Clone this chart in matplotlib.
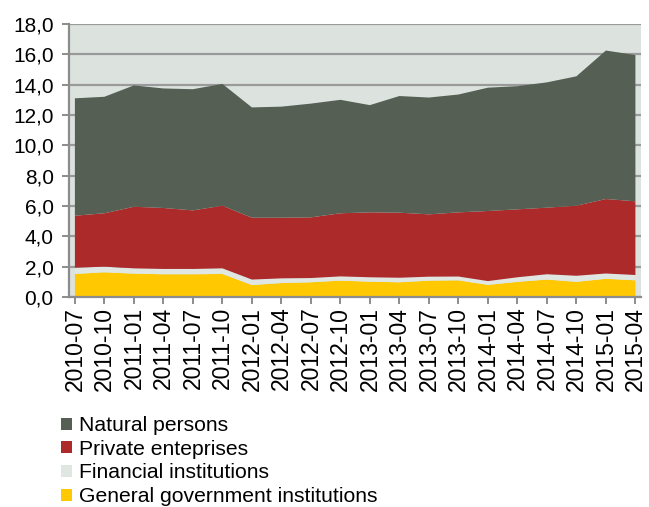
import numpy as np
import matplotlib
matplotlib.use("Agg")
import matplotlib.pyplot as plt
from matplotlib.patches import Patch
from matplotlib.ticker import FuncFormatter

plt.rcParams['font.family'] = ['Liberation Sans', 'DejaVu Sans']

quarters = ["2010-07", "2010-10", "2011-01", "2011-04", "2011-07", "2011-10",
            "2012-01", "2012-04", "2012-07", "2012-10", "2013-01", "2013-04",
            "2013-07", "2013-10", "2014-01", "2014-04", "2014-07", "2014-10",
            "2015-01", "2015-04"]

government = [1.52, 1.63, 1.54, 1.50, 1.50, 1.52, 0.79, 0.92, 0.97, 1.08,
              1.01, 0.97, 1.08, 1.10, 0.80, 1.00, 1.15, 1.00, 1.20, 1.10]
financial = [0.41, 0.37, 0.35, 0.35, 0.35, 0.37, 0.36, 0.31, 0.28, 0.28,
             0.29, 0.30, 0.26, 0.25, 0.25, 0.30, 0.35, 0.40, 0.35, 0.35]
private = [3.43, 3.52, 4.06, 4.02, 3.86, 4.13, 4.08, 4.00, 4.00, 4.16,
           4.28, 4.29, 4.11, 4.23, 4.62, 4.48, 4.39, 4.62, 4.91, 4.86]
natural = [7.74, 7.68, 8.00, 7.88, 7.99, 8.03, 7.27, 7.32, 7.50, 7.48,
           7.07, 7.69, 7.70, 7.77, 8.13, 8.12, 8.26, 8.53, 9.79, 9.64]

labels = ["Natural persons", "Private enteprises", "Financial institutions",
          "General government institutions"]
colors = ["#555F53", "#AD2A2B", "#E0E7E3", "#FFC800"]

fig = plt.figure(figsize=(6.49, 5.07), dpi=100)
ax = fig.add_axes([0.1063, 0.4142, 0.8814, 0.5385])
ax.set_facecolor("#DCE3DF")

x = np.arange(len(quarters))
ax.stackplot(x, government, financial, private, natural,
             colors=colors[::-1], linewidth=0, zorder=3)

ax.set_ylim(0, 18)
ax.set_xlim(-0.2, 19.19)
ax.set_yticks(np.arange(0, 19, 2))
ax.yaxis.set_major_formatter(FuncFormatter(lambda v, p: f"{v:.1f}".replace(".", ",")))
ax.grid(axis="y", color="#9A9A9A", linewidth=1.6, zorder=1)
ax.set_axisbelow(True)

ax.set_xticks(x)
ax.set_xticklabels(quarters, rotation=90)

for s in ["top", "right"]:
    ax.spines[s].set_visible(False)
for s in ["left", "bottom"]:
    ax.spines[s].set_color("#8C8C8C")
    ax.spines[s].set_linewidth(1.6)
    ax.spines[s].set_zorder(4)
ax.tick_params(axis="both", colors="#8C8C8C", width=1.4, length=5,
               labelcolor="black")
ax.tick_params(axis="y", labelsize=15, pad=6)
ax.tick_params(axis="x", labelsize=16.5, pad=2)

handles = [Patch(facecolor=c) for c in colors]
fig.legend(handles, labels, loc="upper left", bbox_to_anchor=(0.078, 0.2),
           frameon=False, fontsize=15.2, handlelength=0.5, handleheight=0.5,
           handletextpad=0.35, labelspacing=0.22, borderpad=0)

fig.savefig("out.png", dpi=100)
